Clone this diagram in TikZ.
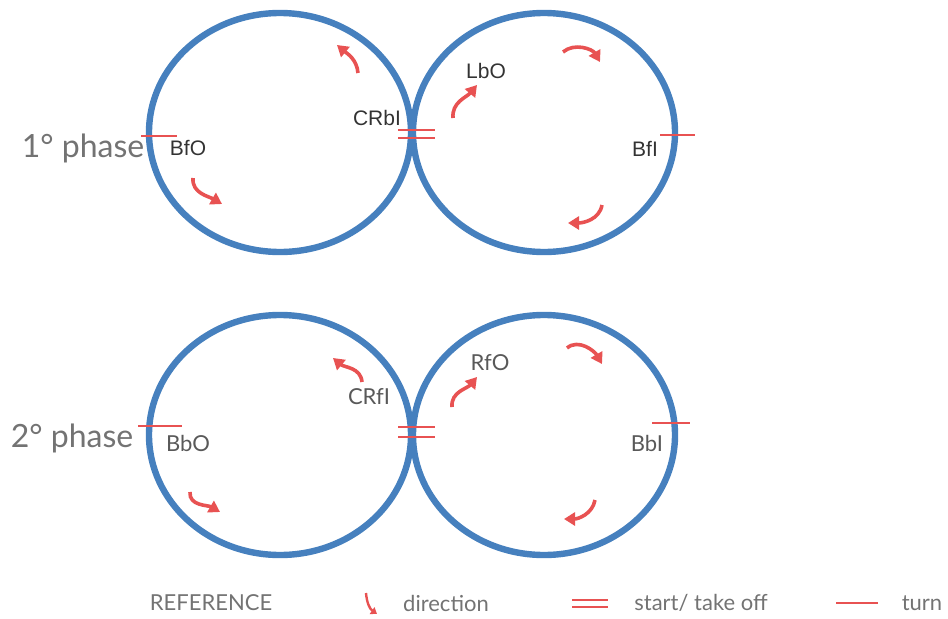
\documentclass[tikz,border=0pt]{standalone}
\usepackage{fontspec}
\setmainfont{Lato}
\newfontfamily\arialfont{Liberation Sans}
\usetikzlibrary{arrows.meta}

\definecolor{trackblue}{RGB}{70,128,190}
\definecolor{markred}{RGB}{232,82,82}
\definecolor{labelgray}{RGB}{115,115,115}

\begin{document}
\begin{tikzpicture}[x=0.5pt, y=0.5pt,
    track/.style={draw=trackblue, line width=3.2pt},
    turnmark/.style={draw=markred, line width=1.1pt},
    dir/.style={draw=markred, line width=1.8pt, -{Triangle[length=5.5pt,width=6.5pt]}},
    code/.style={font=\arialfont\fontsize{10.5}{12}\selectfont, text=black!80},
    codegray/.style={font=\fontsize{11}{13}\selectfont, text=black!65},
    phase/.style={font=\fontsize{16}{19}\selectfont, text=labelgray},
    legend/.style={font=\fontsize{11}{13}\selectfont, text=labelgray}]
    \useasboundingbox (0,0) rectangle (948,618);

    % 1st phase circles
    \draw[track] (280,485.5) ellipse [x radius=131, y radius=119.5];
    \draw[track] (544,485.5) ellipse [x radius=131, y radius=119.5];
    % 2nd phase circles
    \draw[track] (280,183) ellipse [x radius=131, y radius=120];
    \draw[track] (544,183) ellipse [x radius=131, y radius=120];

    % Phase labels
    \node[phase] (ph1) at (83,470) {1° phase};
    \node[phase] (ph2) at (72,180) {2° phase};

    % Turn and take off marks, 1st phase
    \draw[turnmark] (141,482) -- (177,482);
    \draw[turnmark] (398,488) -- (435,488);
    \draw[turnmark] (398,480) -- (435,480);
    \draw[turnmark] (660,483) -- (695,483);
    % Turn and take off marks, 2nd phase
    \draw[turnmark] (138,192) -- (182,192);
    \draw[turnmark] (398,191) -- (435,191);
    \draw[turnmark] (398,181) -- (435,181);
    \draw[turnmark] (652,195) -- (690,195);

    % Edge labels, 1st phase
    \node[code] (bfo) at (188,470) {BfO};
    \node[code] (crbi) at (377,500) {CRbI};
    \node[code] (lbo) at (486,547) {LbO};
    \node[code] (bfi) at (645,469) {BfI};
    % Edge labels, 2nd phase
    \node[codegray] (bbo) at (188,175) {BbO};
    \node[codegray] (crfi) at (369,221) {CRfI};
    \node[codegray] (rfo) at (490,255) {RfO};
    \node[codegray] (bbi) at (647,175) {BbI};

    % Direction arrows, 1st phase
    \draw[dir] (358,545) to[out=95, in=-40] (337,573);
    \draw[dir] (193,440) to[out=-95, in=150] (222,414);
    \draw[dir] (453,500) to[out=95, in=230] (477,533);
    \draw[dir] (563,566) to[out=40, in=120] (600,556);
    \draw[dir] (602,413) to[out=-100, in=0] (568,395);
    % Direction arrows, 2nd phase
    \draw[dir] (362,236) to[out=95, in=-40] (333,260);
    \draw[dir] (190,126) to[out=-95, in=150] (220,106);
    \draw[dir] (452,211) to[out=95, in=230] (477,241);
    \draw[dir] (567,270) to[out=40, in=120] (602,254);
    \draw[dir] (595,118) to[out=-100, in=0] (564,99);

    % Reference
    \node[legend] (ref) at (211,15) {REFERENCE};
    \draw[draw=markred, line width=1.2pt, -{Triangle[length=3pt,width=4pt]}] (366,25) to[out=-85, in=145] (377,4);
    \node[legend] (ldir) at (446,15) {direction};
    \draw[turnmark] (572,18) -- (608,18);
    \draw[turnmark] (572,11) -- (608,11);
    \node[legend] (lstart) at (701,15) {start/ take off};
    \draw[turnmark] (836,15) -- (878,15);
    \node[legend] (lturn) at (922,15) {turn};
\end{tikzpicture}
\end{document}
